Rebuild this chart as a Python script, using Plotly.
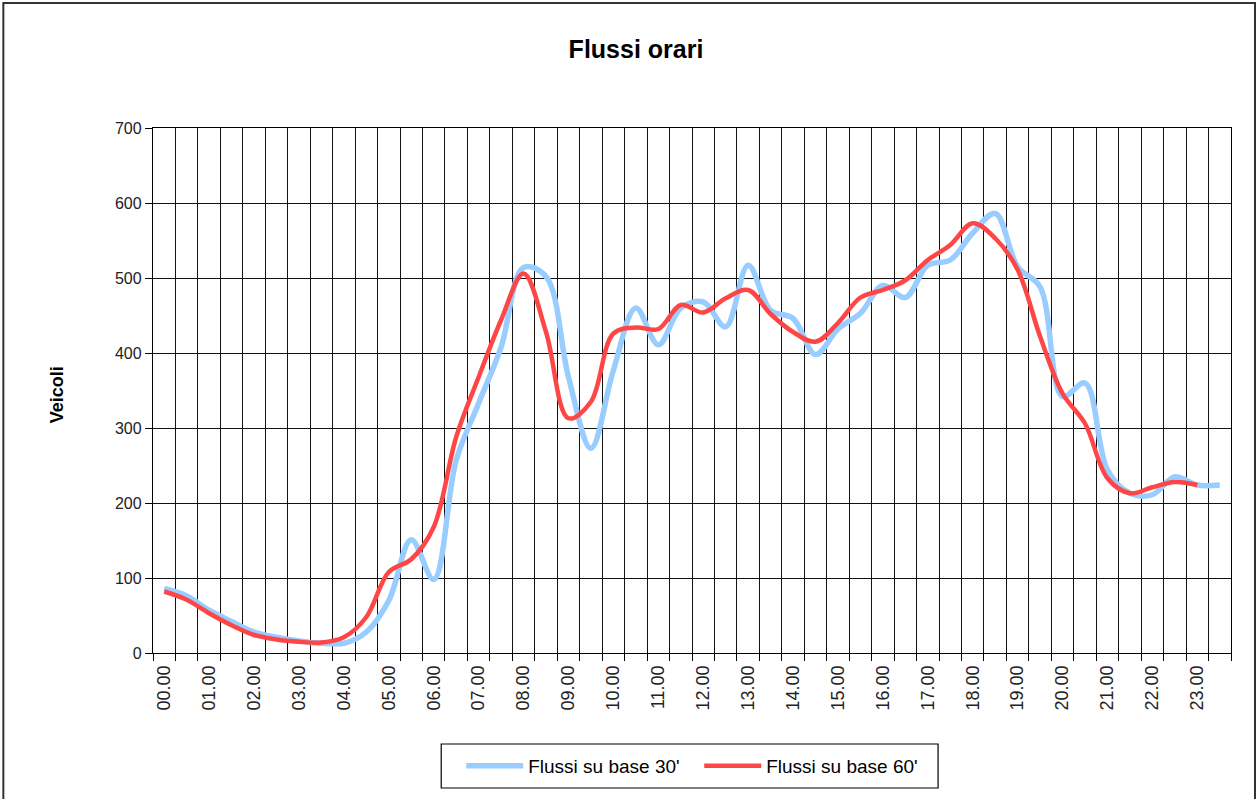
import plotly.graph_objects as go

# Half-hour categories (48 slots)
categories = [f"{h:02d}.{m:02d}" for h in range(24) for m in (0, 30)]
tick_labels = [c if c.endswith(".00") else "" for c in categories]

# Flussi su base 30' (48 values)
flussi_30 = [86, 76, 57, 42, 28, 21, 16, 13, 13, 28,
             70, 151, 98, 257, 333, 408, 514, 502, 368, 273,
             377, 460, 411, 460, 468, 435, 517, 457, 446, 398,
             432, 453, 490, 474, 517, 524, 560, 586, 515, 488,
             342, 360, 244, 213, 211, 235, 224, 224]

# Flussi su base 60' (47 values)
flussi_60 = [82, 71, 53, 37, 24, 18, 15, 14, 21, 48,
             108, 125, 168, 288, 368, 444, 506, 428, 313, 335,
             426, 434, 432, 464, 454, 473, 484, 452, 428, 415,
             440, 474, 484, 497, 524, 544, 573, 553, 511, 422,
             346, 306, 233, 213, 221, 228, 224]

FONT = "Liberation Sans, Arial, sans-serif"
FW, FH = 1260, 799

fig = go.Figure()
fig.add_trace(go.Scatter(
    x=categories, y=flussi_30, mode="lines", name="Flussi su base 30'",
    line=dict(color="#99CCFF", width=5.5, shape="spline", smoothing=1),
))
fig.add_trace(go.Scatter(
    x=categories[:len(flussi_60)], y=flussi_60, mode="lines", name="Flussi su base 60'",
    line=dict(color="#FF4646", width=4.5, shape="spline", smoothing=1),
))

# plot-area edges in page pixels
L, R, T, B = 152.7, 1231.0, 128.0, 653.0
W, H = R - L, B - T

def px_x(p):
    return (p - L) / W

def px_y(p):
    return (B - p) / H

fig.update_layout(
    width=FW, height=FH,
    margin=dict(l=L, r=FW - R, t=T, b=FH - B, autoexpand=False),
    paper_bgcolor="white", plot_bgcolor="white",
    font=dict(family=FONT, color="black", size=15),
    title=dict(text="<b>Flussi orari</b>", x=636 / FW, xref="container",
               xanchor="center", y=1 - 49 / FH, yref="container", yanchor="middle",
               font=dict(family=FONT, size=25, color="black")),
    showlegend=True,
    legend=dict(orientation="h", x=px_x(461), xanchor="left", y=px_y(766), yanchor="middle",
                borderwidth=0, bgcolor="rgba(0,0,0,0)",
                font=dict(family=FONT, size=19, color="black"),
                itemwidth=57, entrywidth=166, entrywidthmode="pixels",
                traceorder="normal"),
    xaxis=dict(
        type="category", categoryorder="array", categoryarray=categories,
        tickmode="array", tickvals=categories, ticktext=tick_labels,
        tickson="boundaries", tickangle=-90,
        range=[-0.5, len(categories) - 0.5],
        showgrid=True, gridcolor="#111111", gridwidth=1.4,
        showline=True, linecolor="black", linewidth=1.4, mirror=True,
        ticks="outside", ticklen=7, tickcolor="black", tickwidth=1.4,
        ticklabelstandoff=4,
        tickfont=dict(family=FONT, size=18, color="#222222"),
        zeroline=False,
    ),
    yaxis=dict(
        range=[0, 700], tickmode="linear", tick0=0, dtick=100,
        showgrid=True, gridcolor="#111111", gridwidth=1.4,
        showline=True, linecolor="black", linewidth=1.4, mirror=True,
        ticks="outside", ticklen=7, tickcolor="black", tickwidth=1.4,
        tickfont=dict(family=FONT, size=16, color="#222222"),
        zeroline=False,
    ),
    annotations=[dict(
        text="<b>Veicoli</b>", textangle=-90, xref="paper", yref="paper",
        x=px_x(57), y=px_y(395), xanchor="center", yanchor="middle", showarrow=False,
        font=dict(family=FONT, size=18, color="black"),
    )],
    shapes=[
        dict(type="rect", xref="paper", yref="paper",
             x0=px_x(3), x1=px_x(1255), y0=px_y(815), y1=px_y(3),
             line=dict(color="#333333", width=2), fillcolor="rgba(0,0,0,0)", layer="below"),
        dict(type="rect", xref="paper", yref="paper",
             x0=px_x(441), x1=px_x(938), y0=px_y(788), y1=px_y(744),
             line=dict(color="black", width=1.2), fillcolor="white", layer="below"),
    ],
)

fig.write_html("out.html", config={"displayModeBar": False},
               post_script="document.body.style.margin='0';")
